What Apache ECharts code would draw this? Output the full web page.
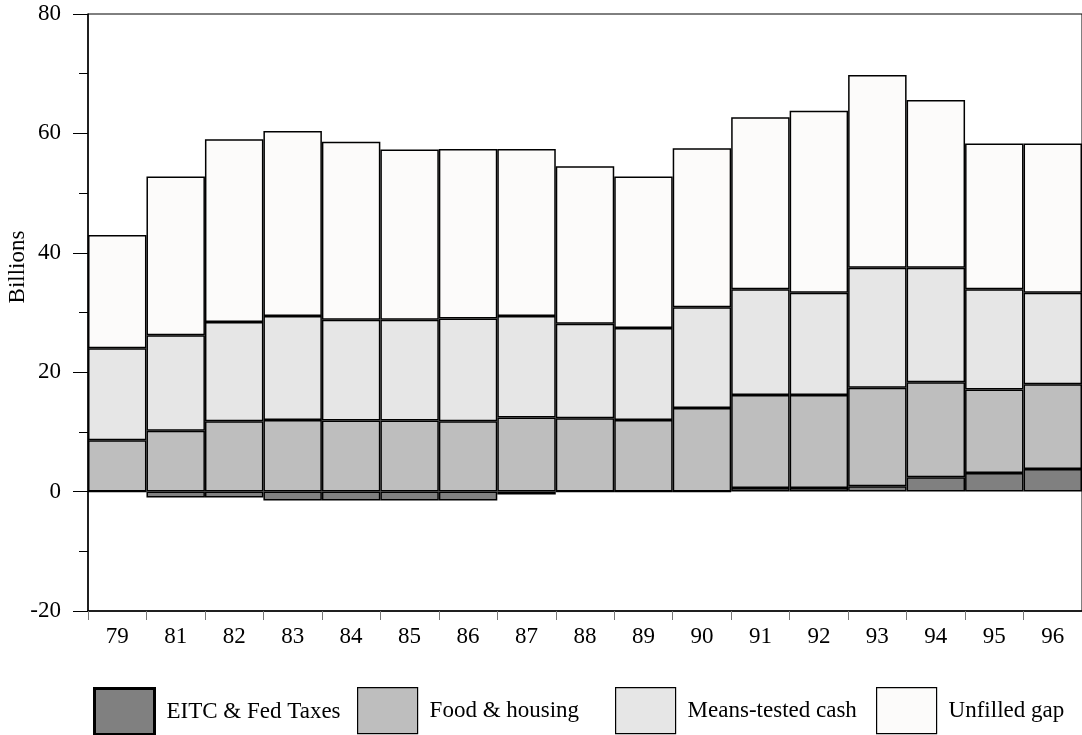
<!DOCTYPE html>
<html>
<head>
<meta charset="utf-8">
<script src="https://cdn.jsdelivr.net/npm/echarts@6/dist/echarts.min.js"></script>
<style>
html,body{margin:0;padding:0;background:#fff;}
#chart{width:1082px;height:735px;}
</style>
</head>
<body>
<div id="chart"></div>
<script>
const categories = ['79','81','82','83','84','85','86','87','88','89','90','91','92','93','94','95','96'];
const eitcFedTaxes = [0, -1.0, -1.0, -1.5, -1.5, -1.5, -1.5, -0.5, 0, 0, 0, 0.6, 0.6, 0.9, 2.4, 3.1, 3.8];
const foodHousing = [8.6, 10.2, 11.8, 12.0, 11.9, 11.9, 11.8, 12.4, 12.3, 12.0, 14.0, 15.6, 15.6, 16.5, 15.9, 14.0, 14.2];
const meansTestedCash = [15.4, 16.0, 16.6, 17.4, 16.9, 16.9, 17.2, 17.0, 15.8, 15.4, 16.9, 17.7, 17.1, 20.1, 19.2, 16.8, 15.3];
const unfilledGap = [19.0, 26.6, 30.6, 31.0, 29.8, 28.5, 28.4, 28.0, 26.4, 25.4, 26.6, 28.8, 30.5, 32.3, 28.1, 24.4, 25.0];
const yTicks = [-20, 0, 20, 40, 60, 80];

const FONT = '"Liberation Serif", "DejaVu Serif", serif';
const FS = 23;
const chart = echarts.init(document.getElementById('chart'), null, {renderer: 'canvas'});

function barSeries(name, data, color) {
  return {
    name: name, type: 'bar', stack: 'total', data: data,
    barCategoryGap: '0%', barGap: '0%',
    itemStyle: {color: color, borderColor: '#000', borderWidth: 1.5},
    emphasis: {disabled: true},
    animation: false
  };
}

function legendFor(name, left, bw) {
  return {
    data: [name], left: left, top: 687, orient: 'horizontal',
    itemWidth: 60, itemHeight: 46, icon: 'rect', padding: 0,
    itemStyle: {borderColor: '#000', borderWidth: bw},
    textStyle: {fontFamily: FONT, fontSize: FS, color: '#000', padding: [0, 0, 0, 7]},
    selectedMode: false
  };
}

chart.setOption({
  animation: false,
  backgroundColor: '#fff',
  grid: {left: 88, top: 14, width: 1003, height: 597, show: true, borderColor: '#000', borderWidth: 1, backgroundColor: 'transparent'},
  xAxis: {
    type: 'category', data: categories, position: 'bottom',
    axisLine: {show: true, onZero: false, lineStyle: {color: '#000', width: 1.5}},
    axisTick: {show: true, alignWithLabel: false, length: 9, lineStyle: {color: '#777', width: 1}},
    axisLabel: {fontFamily: FONT, fontSize: FS, color: '#000', margin: 14},
    splitLine: {show: false}
  },
  yAxis: {
    type: 'value', min: yTicks[0], max: yTicks[yTicks.length - 1], interval: 20,
    axisLine: {show: true, lineStyle: {color: '#000', width: 1.5}},
    axisTick: {show: true, length: 15, lineStyle: {color: '#000', width: 1}},
    minorTick: {show: true, splitNumber: 2, length: 9, lineStyle: {color: '#000', width: 1}},
    axisLabel: {fontFamily: FONT, fontSize: FS, color: '#000', margin: 27,
      formatter: function (v) { return yTicks.indexOf(v) >= 0 ? String(v) : ''; }},
    splitLine: {show: false}
  },
  legend: [
    legendFor('EITC & Fed Taxes', 93, 3),
    legendFor('Food & housing', 357, 1.2),
    legendFor('Means-tested cash', 615, 1.2),
    legendFor('Unfilled gap', 876, 1.2)
  ],
  graphic: [{
    type: 'text', x: 18, y: 267, rotation: Math.PI / 2,
    style: {text: 'Billions', fontFamily: FONT, fontSize: FS, fill: '#000', align: 'center', verticalAlign: 'middle'}
  }],
  series: [
    barSeries('EITC & Fed Taxes', eitcFedTaxes, '#808080'),
    barSeries('Food & housing', foodHousing, '#bebebe'),
    barSeries('Means-tested cash', meansTestedCash, '#e6e6e6'),
    barSeries('Unfilled gap', unfilledGap, '#fcfbfa')
  ]
});
</script>
</body>
</html>
